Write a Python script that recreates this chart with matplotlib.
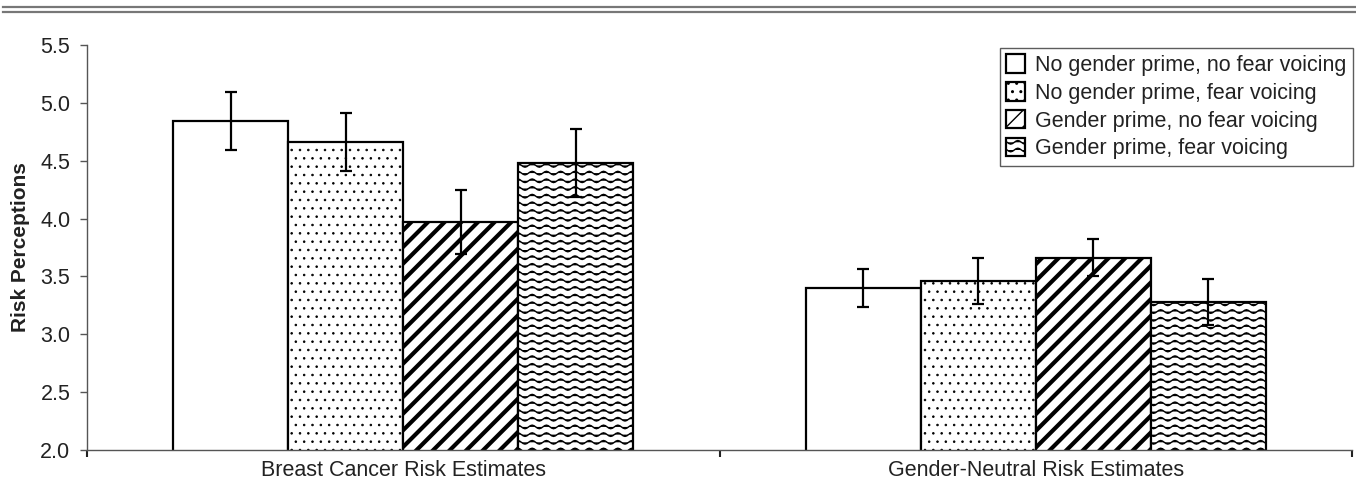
import warnings

import matplotlib
matplotlib.use("Agg")
import matplotlib.pyplot as plt
import matplotlib.hatch as mhatch
from matplotlib.lines import Line2D
from matplotlib.path import Path
import numpy as np

warnings.filterwarnings("ignore")

categories = ["Breast Cancer Risk Estimates", "Gender-Neutral Risk Estimates"]
conditions = ["No gender prime, no fear voicing",
              "No gender prime, fear voicing",
              "Gender prime, no fear voicing",
              "Gender prime, fear voicing"]
means = [[4.84, 3.40],
         [4.66, 3.46],
         [3.97, 3.66],
         [4.48, 3.28]]
errors = [[0.25, 0.16],
          [0.25, 0.20],
          [0.28, 0.16],
          [0.29, 0.20]]
yticks = [2.0, 2.5, 3.0, 3.5, 4.0, 4.5, 5.0, 5.5]


class WaveHatch(mhatch.HatchPatternBase):
    # wavy lines, '~' in the hatch string
    def __init__(self, hatch, density):
        self.num_rows = 13 * hatch.count('~')
        self.num_pts = 57
        self.num_vertices = self.num_rows * self.num_pts

    def set_vertices_and_codes(self, vertices, codes):
        x = np.linspace(0, 1, self.num_pts)
        for i in range(self.num_rows):
            y0 = (i + 0.5) / self.num_rows
            sl = slice(i * self.num_pts, (i + 1) * self.num_pts)
            vertices[sl, 0] = x
            vertices[sl, 1] = y0 + 0.018 * np.sin(2 * np.pi * 7 * x)
            codes[sl] = Path.LINETO
            codes[i * self.num_pts] = Path.MOVETO


mhatch._hatch_types.append(WaveHatch)

plt.rcParams['font.family'] = ['Liberation Sans', 'DejaVu Sans']
plt.rcParams['font.size'] = 15.5
plt.rcParams['hatch.color'] = 'black'

hatches = [None, '..', '//', '~']
hatch_lw = [1.0, 0.6, 3.0, 1.0]

fig = plt.figure(figsize=(13.56, 4.99), dpi=100)
ax = fig.add_axes([87 / 1356, 49 / 499, (1352 - 87) / 1356, (450 - 45) / 499])

width = 0.182
x = np.array([0.5, 1.5])
for i, cond in enumerate(conditions):
    plt.rcParams['hatch.linewidth'] = hatch_lw[i]
    bars = ax.bar(x + (i - 1.5) * width, means[i], width, bottom=0,
                  color='white', edgecolor='black', linewidth=1.6,
                  hatch=hatches[i], label=cond, zorder=2)
    for b in bars:
        if hasattr(b, 'set_hatch_linewidth'):
            b.set_hatch_linewidth(hatch_lw[i])
    ax.errorbar(x + (i - 1.5) * width, means[i], yerr=errors[i], fmt='none',
                ecolor='black', elinewidth=1.6, capsize=4.5, capthick=1.6,
                zorder=3)

ax.set_xlim(0, 2)
ax.set_ylim(2.0, 5.5)
ax.set_yticks(yticks)
ax.set_yticklabels([f"{v:.1f}" for v in yticks])
ax.set_xticks([0, 1, 2])
ax.set_xticklabels([])
ax.set_xticks(x, minor=True)
ax.set_xticklabels(categories, minor=True)
ax.tick_params(axis='x', which='minor', length=0, pad=7, colors='#222222')
ax.tick_params(axis='x', which='major', length=5, width=1.5, color='#222222')
ax.tick_params(axis='y', length=5, width=1.0, color='#555555', pad=7,
               labelcolor='#222222')
ax.set_ylabel("Risk Perceptions", fontweight='bold', fontsize=15,
              color='#222222', labelpad=7)

for side in ['top', 'right']:
    ax.spines[side].set_visible(False)
for side in ['left', 'bottom']:
    ax.spines[side].set_color('#555555')
    ax.spines[side].set_linewidth(1.0)

leg = ax.legend(loc='upper right', bbox_to_anchor=(1353 / 1356, 1 - 48 / 499),
                bbox_transform=fig.transFigure, borderaxespad=0,
                frameon=True, fancybox=False, edgecolor='#333333',
                handlelength=0.9, handleheight=0.95, handletextpad=0.45,
                borderpad=0.3, labelspacing=0.28, fontsize=15.5)
leg.get_frame().set_linewidth(1.0)
for t in leg.get_texts():
    t.set_color('#222222')

# double rule across the top of the page
fig.add_artist(Line2D([0.002, 1.0], [1 - 7 / 499, 1 - 7 / 499],
                      transform=fig.transFigure, color='#777777', linewidth=1.6))
fig.add_artist(Line2D([0.002, 1.0], [1 - 12 / 499, 1 - 12 / 499],
                      transform=fig.transFigure, color='#777777', linewidth=1.6))

fig.savefig("out.png", dpi=100)
